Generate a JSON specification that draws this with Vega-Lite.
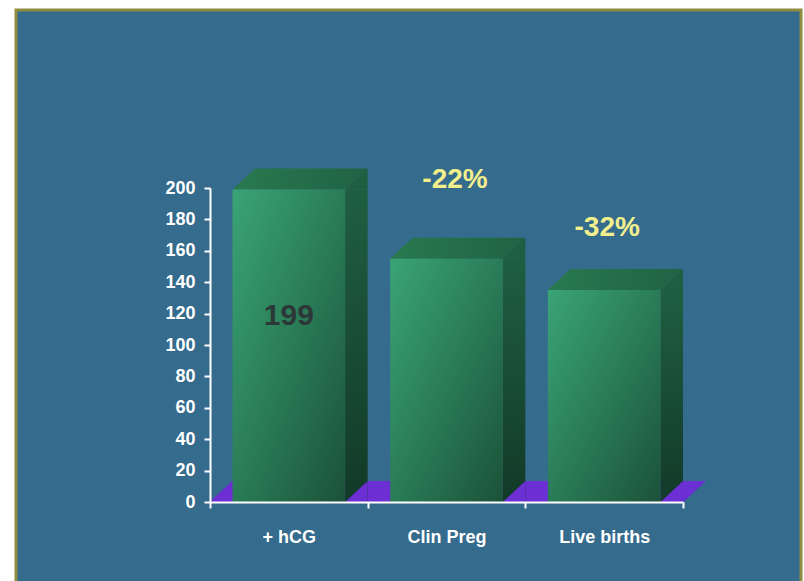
{
  "$schema": "https://vega.github.io/schema/vega-lite/v6.json",
  "autosize": {"type": "none"},
  "padding": {"left": 16, "top": 10, "right": 3, "bottom": -4},
  "width": 785,
  "height": 575,
  "background": "#ffffff",
  "config": {"view": {"fill": "#356b8d", "stroke": "#8e8c3e", "strokeWidth": 3}},
  "data": {"values": [
    {"cat": "+ hCG", "value": 199, "change": ""},
    {"cat": "Clin Preg", "value": 155, "change": "-22%"},
    {"cat": "Live births", "value": 135, "change": "-32%"}
  ]},
  "encoding": {
    "x": {
      "field": "cat", "type": "nominal", "sort": null,
      "scale": {"domain": ["+ hCG", "Clin Preg", "Live births"], "range": [194, 667], "paddingInner": 0, "paddingOuter": 0},
      "axis": {
        "orient": "bottom", "offset": -83, "title": null, "labelAngle": 0,
        "tickBand": "extent", "domainColor": "#ffffff", "domainWidth": 2,
        "tickColor": "#ffffff", "tickWidth": 2, "tickSize": 6,
        "labelColor": "#ffffff", "labelFont": "Liberation Sans", "labelFontSize": 18,
        "labelFontWeight": "bold", "labelPadding": 20, "zindex": 1
      }
    },
    "y": {
      "field": "value", "type": "quantitative",
      "scale": {"domain": [0, 200], "range": [492, 178], "nice": false},
      "axis": {
        "orient": "left", "offset": -194, "title": null, "grid": false,
        "values": [0, 20, 40, 60, 80, 100, 120, 140, 160, 180, 200],
        "domainColor": "#ffffff", "domainWidth": 2,
        "tickColor": "#ffffff", "tickWidth": 2, "tickSize": 6,
        "labelColor": "#ffffff", "labelFont": "Liberation Sans", "labelFontSize": 18,
        "labelFontWeight": "bold", "labelPadding": 9, "zindex": 1
      }
    }
  },
  "layer": [
    {
      "mark": {"type": "point", "shape": "M-236.5,0 L236.5,0 L259,-21 L-214,-21 Z", "size": 4, "filled": true, "fill": "#6b2fd4", "strokeWidth": 0, "opacity": 1},
      "encoding": {"x": {"datum": "Clin Preg"}, "y": {"datum": 0}}
    },
    {
      "mark": {"type": "bar",
        "fill": {"gradient": "linear", "x1": 0, "y1": 0, "x2": 0, "y2": 1,
          "stops": [{"offset": 0, "color": "#1f5e41"}, {"offset": 1, "color": "#123a28"}]}},
      "encoding": {
        "xOffset": {"datum": "g", "scale": {"domain": ["a", "b", "c", "d", "e", "f", "g"], "paddingInner": 0, "paddingOuter": 0}},
        "y2": {"datum": 0}
      }
    },
    {
      "mark": {"type": "point", "shape": "M56.3,0 L78.8,-21 L78.8,0 Z", "size": 4, "filled": true, "fill": "#1f5e41", "strokeWidth": 0, "opacity": 1},
      "encoding": {}
    },
    {
      "mark": {"type": "point", "shape": "M56.3,0 L78.8,-21 L78.8,0 Z", "size": 4, "filled": true, "fill": "#6b2fd4", "strokeWidth": 0, "opacity": 1},
      "encoding": {"y": {"datum": 0}}
    },
    {
      "mark": {"type": "point", "shape": "M-56.3,0 L56.3,0 L78.8,-21 L-33.8,-21 Z", "size": 4, "filled": true, "strokeWidth": 0, "opacity": 1,
        "fill": {"gradient": "linear", "x1": 0, "y1": 0, "x2": 1, "y2": 0,
          "stops": [{"offset": 0, "color": "#29794f"}, {"offset": 1, "color": "#1f6344"}]}},
      "encoding": {}
    },
    {
      "mark": {"type": "bar", "width": {"band": 0.714286},
        "fill": {"gradient": "linear", "x1": 0, "y1": 0, "x2": 1, "y2": 1,
          "stops": [{"offset": 0, "color": "#3aa476"}, {"offset": 0.5, "color": "#2a7c57"}, {"offset": 1, "color": "#1b5239"}]}},
      "encoding": {"y2": {"datum": 0}}
    },
    {
      "transform": [{"filter": "datum.cat === '+ hCG'"}],
      "mark": {"type": "text", "font": "Liberation Sans", "fontSize": 30, "fontWeight": "bold", "fill": "#2c3838", "dy": 126, "baseline": "middle"},
      "encoding": {"text": {"field": "value", "type": "quantitative"}}
    },
    {
      "transform": [{"filter": "datum.cat === 'Clin Preg'"}],
      "mark": {"type": "text", "font": "Liberation Sans", "fontSize": 28, "fontWeight": "bold", "fill": "#f3ef8c", "dx": 8.5, "dy": -79, "baseline": "middle"},
      "encoding": {"text": {"field": "change"}}
    },
    {
      "transform": [{"filter": "datum.cat === 'Live births'"}],
      "mark": {"type": "text", "font": "Liberation Sans", "fontSize": 28, "fontWeight": "bold", "fill": "#f3ef8c", "dx": 3, "dy": -62, "baseline": "middle"},
      "encoding": {"text": {"field": "change"}}
    }
  ]
}
